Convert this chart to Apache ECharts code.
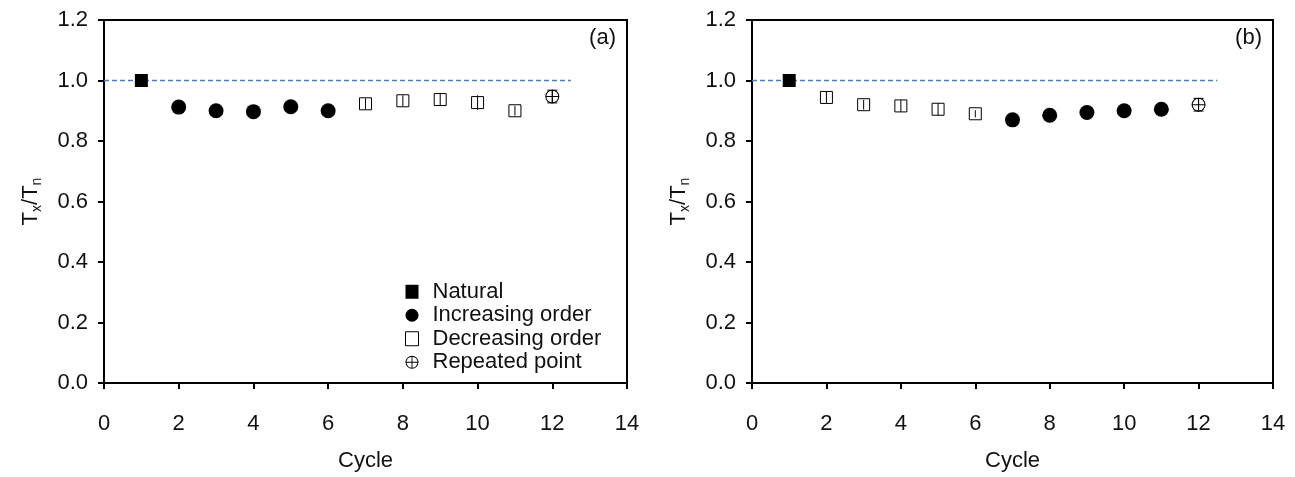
<!DOCTYPE html>
<html>
<head>
<meta charset="utf-8">
<script src="https://cdn.jsdelivr.net/npm/echarts@6/dist/echarts.min.js"></script>
<style>html,body{margin:0;padding:0;background:#fff}#c{width:1295px;height:477px}</style>
</head>
<body>
<div id="c"></div>
<script>
// ---- data ----
const xTicks = [0, 2, 4, 6, 8, 10, 12, 14];
const yTicks = [0.0, 0.2, 0.4, 0.6, 0.8, 1.0, 1.2];
const refLine = [[0, 1.0], [12.5, 1.0]];

// Panel (a)
const aNatural = [[1, 1.0]];
const aIncreasing = [[2, 0.912], [3, 0.900], [4, 0.897], [5, 0.913], [6, 0.900]];
const aDecreasing = [[7, 0.923], [8, 0.933], [9, 0.937], [10, 0.927], [11, 0.900]];
const aDecErr = [0.018, 0.018, 0.020, 0.024, 0.016];
const aRepeated = [[12, 0.947]];
const aRepErr = [0.021];

// Panel (b)
const bNatural = [[1, 1.0]];
const bDecreasing = [[2, 0.944], [3, 0.920], [4, 0.916], [5, 0.905], [6, 0.890]];
const bDecErr = [0.018, 0.016, 0.020, 0.020, 0.012];
const bIncreasing = [[7, 0.870], [8, 0.885], [9, 0.894], [10, 0.900], [11, 0.905]];
const bRepeated = [[12, 0.920]];
const bRepErr = [0.021];

const names = ['Natural', 'Increasing order', 'Decreasing order', 'Repeated point'];
const panelLabels = ['(a)', '(b)'];

// ---- styling ----
const FONT = 'Liberation Sans, Arial, sans-serif';
const FS = 22;
const TXT = '#111';
const oplus = 'path://M10,0 A10,10 0 1,1 9.99,0 Z M10,1.5 A8.5,8.5 0 1,0 10.01,1.5 Z M9.3,0 L10.7,0 L10.7,20 L9.3,20 Z M0,9.3 L20,9.3 L20,10.7 L0,10.7 Z';

function errData(pts, errs) {
  return pts.map((p, i) => [p[0], p[1], errs[i]]);
}
function errSeries(idx, data, cap) {
  return {
    type: 'custom', xAxisIndex: idx, yAxisIndex: idx, z: 5, silent: true,
    data: data,
    renderItem: function (params, api) {
      const x = api.value(0), y = api.value(1), e = api.value(2);
      const lo = api.coord([x, y - e]), hi = api.coord([x, y + e]);
      const st = {stroke: '#000', lineWidth: 1};
      const children = [{type: 'line', shape: {x1: lo[0], y1: lo[1], x2: hi[0], y2: hi[1]}, style: st}];
      if (cap) {
        children.push({type: 'line', shape: {x1: lo[0] - 5, y1: lo[1], x2: lo[0] + 5, y2: lo[1]}, style: st});
        children.push({type: 'line', shape: {x1: hi[0] - 5, y1: hi[1], x2: hi[0] + 5, y2: hi[1]}, style: st});
      }
      return {type: 'group', children: children};
    }
  };
}

function panelSeries(idx, nat, inc, dec, decErr, rep, repErr) {
  return [
    {type: 'line', xAxisIndex: idx, yAxisIndex: idx, data: refLine, symbol: 'none', silent: true, z: 1,
     lineStyle: {color: '#4a7cc0', width: 1.4, type: [5, 3]}},
    {name: names[0], type: 'scatter', xAxisIndex: idx, yAxisIndex: idx, data: nat, symbol: 'rect', symbolSize: 13,
     itemStyle: {color: '#000', opacity: 1}, z: 3},
    {name: names[1], type: 'scatter', xAxisIndex: idx, yAxisIndex: idx, data: inc, symbol: 'circle', symbolSize: 15,
     itemStyle: {color: '#000', opacity: 1}, z: 3},
    {name: names[2], type: 'scatter', xAxisIndex: idx, yAxisIndex: idx, data: dec, symbol: 'rect', symbolSize: 12,
     itemStyle: {color: '#fff', borderColor: '#000', borderWidth: 1, opacity: 1}, z: 3},
    {name: names[3], type: 'scatter', xAxisIndex: idx, yAxisIndex: idx, data: rep, symbol: oplus, symbolSize: 14,
     itemStyle: {color: '#000', opacity: 1}, z: 3},
    errSeries(idx, errData(dec, decErr), false),
    errSeries(idx, errData(rep, repErr), true)
  ];
}

const grids = [
  {left: 104, top: 20, width: 523, height: 368, show: true, borderColor: '#000', borderWidth: 2, backgroundColor: 'transparent'},
  {left: 752, top: 20, width: 521, height: 368, show: true, borderColor: '#000', borderWidth: 2, backgroundColor: 'transparent'}
];

function xAxis(i) {
  return {
    gridIndex: i, type: 'value', min: xTicks[0], max: xTicks[xTicks.length - 1], interval: 2,
    name: 'Cycle', nameLocation: 'middle', nameGap: 67,
    nameTextStyle: {fontFamily: FONT, fontSize: FS, color: TXT},
    axisLine: {show: true, lineStyle: {color: '#000', width: 2}},
    axisTick: {show: true, inside: false, length: 6, lineStyle: {color: '#000', width: 2}},
    axisLabel: {fontFamily: FONT, fontSize: FS, color: TXT, margin: 30},
    splitLine: {show: false}
  };
}
function yAxis(i) {
  return {
    gridIndex: i, type: 'value', min: yTicks[0], max: yTicks[yTicks.length - 1], interval: 0.2,
    name: '{t|T}{s|x}{t|/T}{s|n}', nameLocation: 'middle', nameGap: 60,
    nameTextStyle: {
      fontFamily: FONT, color: TXT,
      rich: {
        t: {fontFamily: FONT, fontSize: FS, color: TXT, verticalAlign: 'middle', lineHeight: 26},
        s: {fontFamily: FONT, fontSize: 14, color: TXT, verticalAlign: 'bottom', lineHeight: 14}
      }
    },
    axisLine: {show: true, lineStyle: {color: '#000', width: 2}},
    axisTick: {show: true, inside: false, length: 6, lineStyle: {color: '#000', width: 2}},
    axisLabel: {fontFamily: FONT, fontSize: FS, color: TXT, margin: 16,
      formatter: v => v.toFixed(1)},
    splitLine: {show: false}
  };
}

const option = {
  animation: false,
  backgroundColor: '#fff',
  grid: grids,
  xAxis: [xAxis(0), xAxis(1)],
  yAxis: [yAxis(0), yAxis(1)],
  title: [
    {text: panelLabels[0], right: 1295 - 616, top: 27, padding: 0, textStyle: {fontFamily: FONT, fontSize: FS, fontWeight: 'normal', color: TXT}},
    {text: panelLabels[1], right: 1295 - 1262, top: 27, padding: 0, textStyle: {fontFamily: FONT, fontSize: FS, fontWeight: 'normal', color: TXT}}
  ],
  legend: {
    orient: 'vertical', left: 405, top: 280, itemGap: 0, itemWidth: 13, itemHeight: 14, padding: 0,
    data: [
      {name: names[0], icon: 'rect', itemStyle: {color: '#000'}},
      {name: names[1], icon: 'circle', itemStyle: {color: '#000'}},
      {name: names[2], icon: 'rect', itemStyle: {color: '#fff', borderColor: '#000', borderWidth: 1}},
      {name: names[3], icon: oplus, itemStyle: {color: '#000'}}
    ],
    selectedMode: false,
    textStyle: {fontFamily: FONT, fontSize: FS, color: TXT, lineHeight: 23.5, padding: [0, 0, 0, 9]}
  },
  series: [].concat(
    panelSeries(0, aNatural, aIncreasing, aDecreasing, aDecErr, aRepeated, aRepErr),
    panelSeries(1, bNatural, bIncreasing, bDecreasing, bDecErr, bRepeated, bRepErr)
  )
};

const chart = echarts.init(document.getElementById('c'), null, {renderer: 'canvas'});
chart.setOption(option);
</script>
</body>
</html>
